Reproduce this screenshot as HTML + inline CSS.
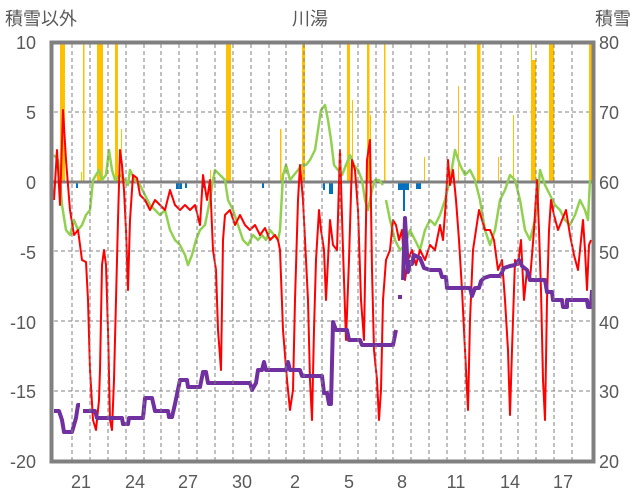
<!DOCTYPE html>
<html><head><meta charset="utf-8"><style>
html,body{margin:0;padding:0;background:#fff;}
svg{display:block;font-family:"Liberation Sans","Noto Sans CJK JP",sans-serif;}
</style></head><body>
<svg width="636" height="501" viewBox="0 0 636 501" xmlns="http://www.w3.org/2000/svg">
<rect width="636" height="501" fill="#fff"/>
<g stroke="#808080" stroke-width="1" stroke-dasharray="4,3">
<line x1="54" y1="112" x2="592" y2="112"/>
<line x1="54" y1="251" x2="592" y2="251"/>
<line x1="54" y1="321" x2="592" y2="321"/>
<line x1="54" y1="391" x2="592" y2="391"/>
</g>
<g stroke="#808080" stroke-width="1" stroke-dasharray="4,3" id="vg"></g>
<g fill="#FFC000">
<rect x="60" y="43" width="5" height="139"/>
<rect x="81" y="172" width="1" height="10"/>
<rect x="83" y="43" width="1.5" height="139"/>
<rect x="97" y="43" width="6" height="139"/>
<rect x="115" y="43" width="3" height="139"/>
<rect x="121" y="129" width="1" height="53"/>
<rect x="210" y="170" width="1" height="12"/>
<rect x="226" y="43" width="5" height="139"/>
<rect x="280" y="129" width="1.5" height="53"/>
<rect x="302" y="43" width="3" height="139"/>
<rect x="347" y="43" width="3" height="139"/>
<rect x="352" y="100" width="1" height="82"/>
<rect x="367" y="43" width="2.5" height="139"/>
<rect x="370" y="115" width="1" height="67"/>
<rect x="384" y="43" width="1.5" height="139"/>
<rect x="424" y="157" width="1" height="25"/>
<rect x="458" y="86" width="1" height="96"/>
<rect x="477" y="43" width="3.5" height="139"/>
<rect x="498" y="157" width="1" height="25"/>
<rect x="513" y="115" width="1" height="67"/>
<rect x="531" y="43" width="1" height="139"/>
<rect x="532" y="60" width="4" height="122"/>
<rect x="549" y="43" width="5" height="139"/>
<rect x="589" y="43" width="3" height="139"/>
</g>
<g fill="#0070C0">
<rect x="76" y="182" width="2" height="6"/>
<rect x="176" y="182" width="6" height="7"/>
<rect x="185" y="182" width="2" height="6"/>
<rect x="203" y="182" width="2" height="6"/>
<rect x="262" y="182" width="2" height="6"/>
<rect x="323" y="182" width="2" height="8"/>
<rect x="329" y="182" width="4" height="12"/>
<rect x="398" y="182" width="11" height="8"/>
<rect x="403" y="182" width="2" height="29"/>
<rect x="416" y="182" width="5" height="7"/>
</g>
<rect x="52" y="180.5" width="541" height="3" fill="#808080"/>
<polyline fill="none" stroke="#92D050" stroke-width="2.5" stroke-linejoin="round" points="54,155 58,160 60,180 62,205 66,230 70,235 74,220 78,230 82,225 86,215 90,210 93,180 96,175 99,170 102,180 106,175 109,150 112,170 115,180 120,175 125,180 128,185 130,170 135,180 140,185 145,195 150,205 155,210 160,215 165,210 170,230 175,240 180,245 185,255 188,265 192,255 196,240 200,230 205,225 210,200 213,180 215,170 220,175 225,180 228,200 233,210 238,225 243,240 248,245 253,235 258,240 262,235 266,240 270,230 274,235 278,240 280,230 283,175 286,165 290,180 294,175 298,170 302,165 306,165 310,160 315,150 318,130 321,110 325,105 328,120 331,140 334,165 338,170 342,175 346,165 350,155 354,165 358,170 362,180 365,200 368,210 372,190 375,180 379,180 383,185"/>
<polyline fill="none" stroke="#92D050" stroke-width="2.5" stroke-linejoin="round" points="386,200 390,220 395,240 400,250 405,245 410,230 415,240 420,250 425,230 430,220 435,225 440,215 445,200 450,180 455,150 460,165 465,175 470,170 475,180 480,200 485,230 490,245 495,230 500,200 505,190 510,175 515,180 520,200 525,230 530,240 535,220 538,195 540,170 545,185 550,195 555,205 560,210 565,220 570,225 575,215 580,200 585,210 588,220 590,180"/>
<polyline fill="none" stroke="#FF0000" stroke-width="2" stroke-linejoin="round" points="54,200 57,150 60,205 63,110 66,160 70,210 74,235 78,230 82,260 86,262 88,300 90,370 93,420 96,430 99,400 100,370 102,265 104,250 106,265 108,330 110,420 112,430 114,380 116,300 118,220 120,150 122,165 124,190 126,230 128,290 130,220 133,175 137,178 140,195 145,200 150,210 155,200 160,205 165,210 170,190 175,205 180,210 185,205 190,210 195,205 200,225 203,175 207,200 210,180 213,250 216,270 218,330 221,370 223,240 225,215 230,210 235,225 240,215 245,225 250,230 255,225 260,235 265,228 270,240 275,235 278,240 280,250 283,330 287,380 290,410 293,390 295,300 298,200 300,165 303,200 305,240 308,300 310,380 312,420 314,330 316,260 319,210 321,230 324,250 326,300 330,220 333,245 337,250 340,150 343,250 346,340 349,260 352,160 355,170 358,210 361,300 364,340 367,160 370,140 372,270 374,350 377,380 379,420 381,390 383,300 386,260 390,250 393,220 396,225 399,240 402,230 405,280 408,260 412,250 416,265 420,250 425,260 430,245 435,250 440,225 443,240 446,200 448,160 450,185 453,170 456,200 459,240 462,290 465,350 468,410 470,320 473,250 476,230 479,210 482,220 485,230 490,230 494,240 498,270 502,260 505,300 508,350 510,415 512,350 515,260 518,265 521,240 524,300 527,270 530,280 534,230 537,180 539,230 541,290 543,380 545,420 547,300 549,230 551,200 554,215 558,230 562,220 566,210 570,235 574,255 578,270 581,240 583,220 585,250 587,290 589,245 591,240"/>
<polyline fill="none" stroke="#7030A0" stroke-width="4" stroke-linejoin="round" points="54,411 59,411 62,420 64,432 72,432 76,418 78,405 80,405"/>
<polyline fill="none" stroke="#7030A0" stroke-width="4" stroke-linejoin="round" points="83,411 95,411 97,418 122,418 123,424 128,424 129,418 143,418 145,398 152,398 155,411 168,411 169,417 172,417 175,404 180,380 187,380 188,387 200,387 203,372 206,372 208,383 250,383 252,390 256,383 258,370 262,370 264,362 266,370 286,370 288,362 290,370 300,370 302,376 322,376 324,393 327,393 329,404 331,404 333,322 336,330 347,330 349,340 360,340 362,345 393,345 396,330"/>
<polyline fill="none" stroke="#7030A0" stroke-width="4" stroke-linejoin="round" points="398,297 402,297"/>
<polyline fill="none" stroke="#7030A0" stroke-width="4" stroke-linejoin="round" points="403,280 405,218 408,272 410,262 412,264 414,255 420,258 424,268 430,270 440,270 442,277 446,277 447,288 470,288 472,296 475,288 479,288 481,281 484,278 490,276 500,276 504,268 510,266 515,265 519,260 522,266 527,270 530,280 545,280 547,292 552,292 553,300 562,300 563,307 567,307 567,300 587,300 588,307 591,307 592,290"/>
<rect x="51.5" y="42.5" width="542" height="419" fill="none" stroke="#808080" stroke-width="4"/>
<g font-size="18" fill="#595959">
<text x="5" y="25">積雪以外</text>
<text x="310" y="25" text-anchor="middle">川湯</text>
<text x="631" y="25" text-anchor="end">積雪</text>
<g text-anchor="end">
<text x="36" y="49">10</text><text x="36" y="119">5</text><text x="36" y="189">0</text>
<text x="36" y="259">-5</text><text x="36" y="329">-10</text><text x="36" y="398">-15</text><text x="36" y="468">-20</text>
</g>
<g text-anchor="start">
<text x="599" y="49">80</text><text x="599" y="119">70</text><text x="599" y="189">60</text>
<text x="599" y="259">50</text><text x="599" y="329">40</text><text x="599" y="398">30</text><text x="599" y="468">20</text>
</g>
<g text-anchor="middle">
<text x="81" y="488">21</text><text x="135" y="488">24</text><text x="188" y="488">27</text>
<text x="242" y="488">30</text><text x="295" y="488">2</text><text x="349" y="488">5</text>
<text x="402" y="488">8</text><text x="456" y="488">11</text><text x="510" y="488">14</text><text x="563" y="488">17</text>
</g>
</g>
<g stroke="#808080" stroke-width="1" stroke-dasharray="4,3">
<line x1="72" y1="44" x2="72" y2="460"/><line x1="90" y1="44" x2="90" y2="460"/><line x1="108" y1="44" x2="108" y2="460"/><line x1="126" y1="44" x2="126" y2="460"/><line x1="144" y1="44" x2="144" y2="460"/><line x1="161" y1="44" x2="161" y2="460"/><line x1="179" y1="44" x2="179" y2="460"/><line x1="197" y1="44" x2="197" y2="460"/><line x1="215" y1="44" x2="215" y2="460"/><line x1="233" y1="44" x2="233" y2="460"/><line x1="251" y1="44" x2="251" y2="460"/><line x1="269" y1="44" x2="269" y2="460"/><line x1="286" y1="44" x2="286" y2="460"/><line x1="304" y1="44" x2="304" y2="460"/><line x1="322" y1="44" x2="322" y2="460"/><line x1="340" y1="44" x2="340" y2="460"/><line x1="358" y1="44" x2="358" y2="460"/><line x1="376" y1="44" x2="376" y2="460"/><line x1="393" y1="44" x2="393" y2="460"/><line x1="411" y1="44" x2="411" y2="460"/><line x1="429" y1="44" x2="429" y2="460"/><line x1="447" y1="44" x2="447" y2="460"/><line x1="465" y1="44" x2="465" y2="460"/><line x1="483" y1="44" x2="483" y2="460"/><line x1="501" y1="44" x2="501" y2="460"/><line x1="518" y1="44" x2="518" y2="460"/><line x1="536" y1="44" x2="536" y2="460"/><line x1="554" y1="44" x2="554" y2="460"/><line x1="572" y1="44" x2="572" y2="460"/>
</g>
</svg>
</body></html>
